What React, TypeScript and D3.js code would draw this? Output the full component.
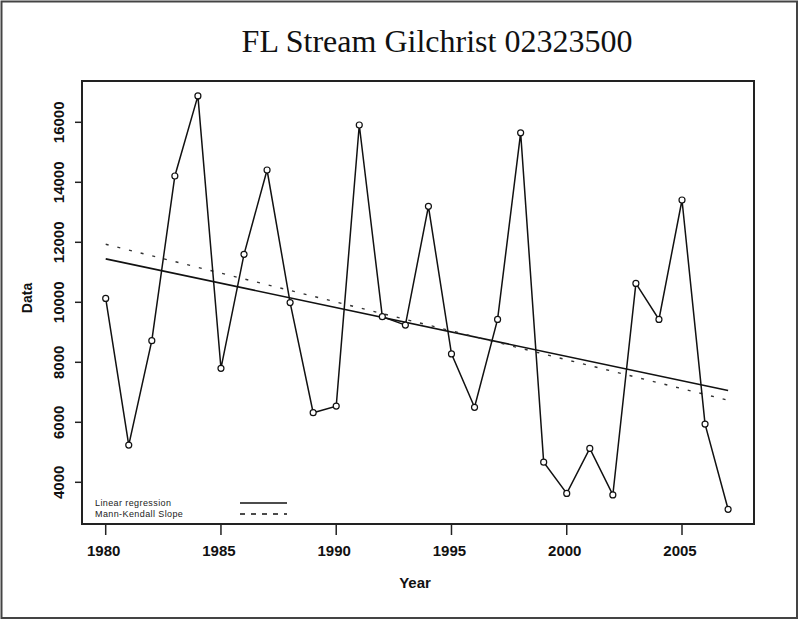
import React from 'react';
import * as d3 from 'd3';

// Annual values
const years = [
  1980, 1981, 1982, 1983, 1984, 1985, 1986, 1987, 1988, 1989, 1990, 1991, 1992, 1993,
  1994, 1995, 1996, 1997, 1998, 1999, 2000, 2001, 2002, 2003, 2004, 2005, 2006, 2007,
];
const values = [
  10130, 5240, 8720, 14210, 16880, 7800, 11600, 14410, 9990, 6320, 6540, 15910, 9520, 9240,
  13200, 8280, 6500, 9430, 15650, 4670, 3630, 5130, 3580, 10630, 9430, 13410, 5940, 3100,
];
const xTicks = [1980, 1985, 1990, 1995, 2000, 2005];
const yTicks = [4000, 6000, 8000, 10000, 12000, 14000, 16000];
const legendLabels = ['Linear regression', 'Mann-Kendall Slope'];

const W = 799;
const H = 621;
const plot = { left: 82, right: 754, top: 81, bottom: 524 };

// least squares fit
function linearFit(xs: number[], ys: number[]) {
  const mx = d3.mean(xs)!;
  const my = d3.mean(ys)!;
  let num = 0;
  let den = 0;
  xs.forEach((x, i) => {
    num += (x - mx) * (ys[i] - my);
    den += (x - mx) * (x - mx);
  });
  const slope = num / den;
  return { slope, intercept: my - slope * mx };
}

// Sen's slope (median of pairwise slopes), line through the medians
function senFit(xs: number[], ys: number[]) {
  const slopes: number[] = [];
  for (let i = 0; i < xs.length; i++) {
    for (let j = i + 1; j < xs.length; j++) {
      slopes.push((ys[j] - ys[i]) / (xs[j] - xs[i]));
    }
  }
  const slope = d3.median(slopes)!;
  const intercept = d3.median(ys)! - slope * d3.median(xs)!;
  return { slope, intercept };
}

const App = () => {
  const x = d3.scaleLinear().domain([1980, 2005]).range([105.7, 682]);
  const y = d3.scaleLinear().domain([4000, 16000]).range([482.3, 122.3]);

  const pts = years.map((yr, i) => ({ yr, v: values[i] }));
  const line = d3
    .line<{ yr: number; v: number }>()
    .x((d) => x(d.yr))
    .y((d) => y(d.v));

  const lin = linearFit(years, values);
  const sen = senFit(years, values);
  const x0 = years[0];
  const x1 = years[years.length - 1];
  const fitLine = (f: { slope: number; intercept: number }) =>
    line([
      { yr: x0, v: f.intercept + f.slope * x0 },
      { yr: x1, v: f.intercept + f.slope * x1 },
    ]) || '';

  const sans = 'Arial, "Liberation Sans", sans-serif';

  return (
    <svg
      width={W}
      height={H}
      style={{ position: 'absolute', left: 0, top: 0, background: '#fff' }}
    >
      <rect x={0} y={0} width={W} height={H} fill="#fff" />
      {/* outer frame */}
      <rect x={1.5} y={1.5} width={795.5} height={616.5} fill="none" stroke="#444" strokeWidth={2} />

      <text
        x={437}
        y={52}
        textAnchor="middle"
        fontFamily='"Liberation Serif", "Times New Roman", serif'
        fontSize={32}
        fill="#111"
      >
        FL Stream Gilchrist 02323500
      </text>

      {/* plot box */}
      <rect
        x={plot.left}
        y={plot.top}
        width={plot.right - plot.left}
        height={plot.bottom - plot.top}
        fill="none"
        stroke="#222"
        strokeWidth={2}
      />

      {/* y axis */}
      {yTicks.map((t) => (
        <g key={t}>
          <line x1={plot.left - 7} x2={plot.left} y1={y(t)} y2={y(t)} stroke="#222" strokeWidth={1.5} />
          <text
            transform={`translate(64,${y(t)}) rotate(-90)`}
            textAnchor="middle"
            fontFamily={sans}
            fontWeight="bold"
            fontSize={15}
            fill="#111"
          >
            {t}
          </text>
        </g>
      ))}
      <text
        transform={`translate(32,298) rotate(-90)`}
        textAnchor="middle"
        fontFamily={sans}
        fontWeight="bold"
        fontSize={14}
        fill="#111"
      >
        Data
      </text>

      {/* x axis */}
      {xTicks.map((t) => (
        <g key={t}>
          <line x1={x(t)} x2={x(t)} y1={plot.bottom} y2={plot.bottom + 11} stroke="#222" strokeWidth={1.5} />
          <text
            x={x(t) - 2}
            y={556}
            textAnchor="middle"
            fontFamily={sans}
            fontWeight="bold"
            fontSize={15}
            fill="#111"
          >
            {t}
          </text>
        </g>
      ))}
      <text x={415} y={588} textAnchor="middle" fontFamily={sans} fontWeight="bold" fontSize={15} fill="#111">
        Year
      </text>

      {/* trend lines */}
      <path d={fitLine(lin)} fill="none" stroke="#111" strokeWidth={1.6} />
      <path d={fitLine(sen)} fill="none" stroke="#333" strokeWidth={1.4} strokeDasharray="3,9" />

      {/* series */}
      <path d={line(pts) || ''} fill="none" stroke="#111" strokeWidth={1.5} />
      {pts.map((p) => (
        <circle key={p.yr} cx={x(p.yr)} cy={y(p.v)} r={3} fill="#fff" stroke="#111" strokeWidth={1.2} />
      ))}

      {/* legend */}
      {legendLabels.map((lab, i) => (
        <g key={lab}>
          <text
            x={95}
            y={506 + i * 11}
            fontFamily={sans}
            fontSize={9}
            letterSpacing={0.4}
            fill="#222"
          >
            {lab}
          </text>
          <line
            x1={240}
            x2={287}
            y1={503 + i * 11}
            y2={503 + i * 11}
            stroke="#111"
            strokeWidth={1.5}
            strokeDasharray={i === 0 ? undefined : '5,6'}
          />
        </g>
      ))}
    </svg>
  );
};

export default App;
